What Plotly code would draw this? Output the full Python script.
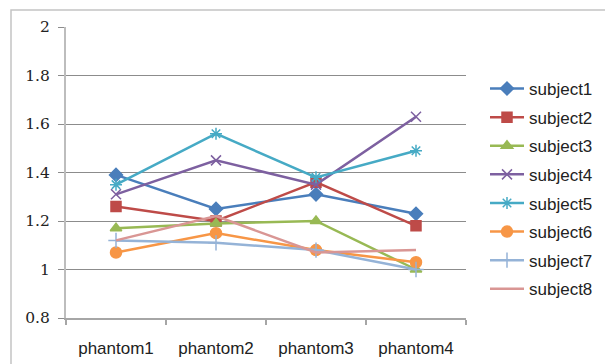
import plotly.graph_objects as go

# Categories and per-subject measurements
phantoms = ["phantom1", "phantom2", "phantom3", "phantom4"]

subject1 = [1.39, 1.25, 1.31, 1.23]
subject2 = [1.26, 1.20, 1.36, 1.18]
subject3 = [1.17, 1.19, 1.20, 1.00]
subject4 = [1.31, 1.45, 1.35, 1.63]
subject5 = [1.35, 1.56, 1.38, 1.49]
subject6 = [1.07, 1.15, 1.08, 1.03]
subject7 = [1.12, 1.11, 1.08, 1.00]
subject8 = [1.12, 1.22, 1.07, 1.08]

series = [
    ("subject1", subject1, "#4A7EBB", "diamond", 10),
    ("subject2", subject2, "#BE4B48", "square", 10),
    ("subject3", subject3, "#98B954", "triangle-up", 10),
    ("subject4", subject4, "#7D60A0", "x-thin-open", 10),
    ("subject5", subject5, "#46AAC5", "asterisk-open", 10),
    ("subject6", subject6, "#F79646", "circle", 11),
    ("subject7", subject7, "#95B3D7", "cross-thin-open", 11),
    ("subject8", subject8, "#D99694", None, 0),
]

fig = go.Figure()
for name, vals, color, symbol, size in series:
    if symbol is None:
        mode = "lines"
        marker = dict()
    else:
        mode = "lines+markers"
        marker = dict(symbol=symbol, size=size, color=color,
                      line=dict(color=color, width=1.5))
    fig.add_trace(go.Scatter(
        x=phantoms, y=vals, name=name, mode=mode,
        line=dict(color=color, width=2.5),
        marker=marker, legendgroup=name,
    ))

fig.update_layout(
    width=605, height=364,
    margin=dict(l=66, r=139, t=27, b=46, autoexpand=False),
    paper_bgcolor="white", plot_bgcolor="white",
    showlegend=True,
    legend=dict(
        x=(485 - 66) / 400, y=1 + (27 - 71) / 291, xanchor="left", yanchor="top",
        font=dict(family="Liberation Sans, Arial", size=17, color="#222222"),
        tracegroupgap=3.5, itemwidth=34,
        bgcolor="rgba(0,0,0,0)",
    ),
    xaxis=dict(
        type="category", range=[-0.5, 3.5], automargin=False,
        showline=True, linecolor="#A6A6A6", linewidth=1.5,
        ticks="outside", tickson="boundaries", ticklen=5,
        tickcolor="#A6A6A6", tickwidth=1.5,
        showgrid=False,
        tickfont=dict(family="Liberation Sans, Arial", size=17, color="#222222"),
        ticklabelstandoff=14,
    ),
    yaxis=dict(
        range=[0.8, 2.0], dtick=0.2, tick0=0.8, automargin=False,
        showline=True, linecolor="#BDBDBD", linewidth=2,
        ticks="outside", ticklen=6, tickcolor="#8C8C8C", tickwidth=1.2,
        showgrid=True, gridcolor="#8C8C8C", gridwidth=1.2,
        zeroline=False,
        tickfont=dict(family="DejaVu Serif", size=15.5, color="#222222"),
        ticklabelstandoff=5,
    ),
    shapes=[dict(
        type="rect", xref="paper", yref="paper",
        x0=(11 - 66) / 400, x1=1.6, y0=-0.5, y1=1 + (27 - 10) / 291,
        line=dict(color="#C4C4C4", width=1.5), fillcolor="rgba(0,0,0,0)",
        layer="below",
    )],
)

fig.write_html("out.html")
